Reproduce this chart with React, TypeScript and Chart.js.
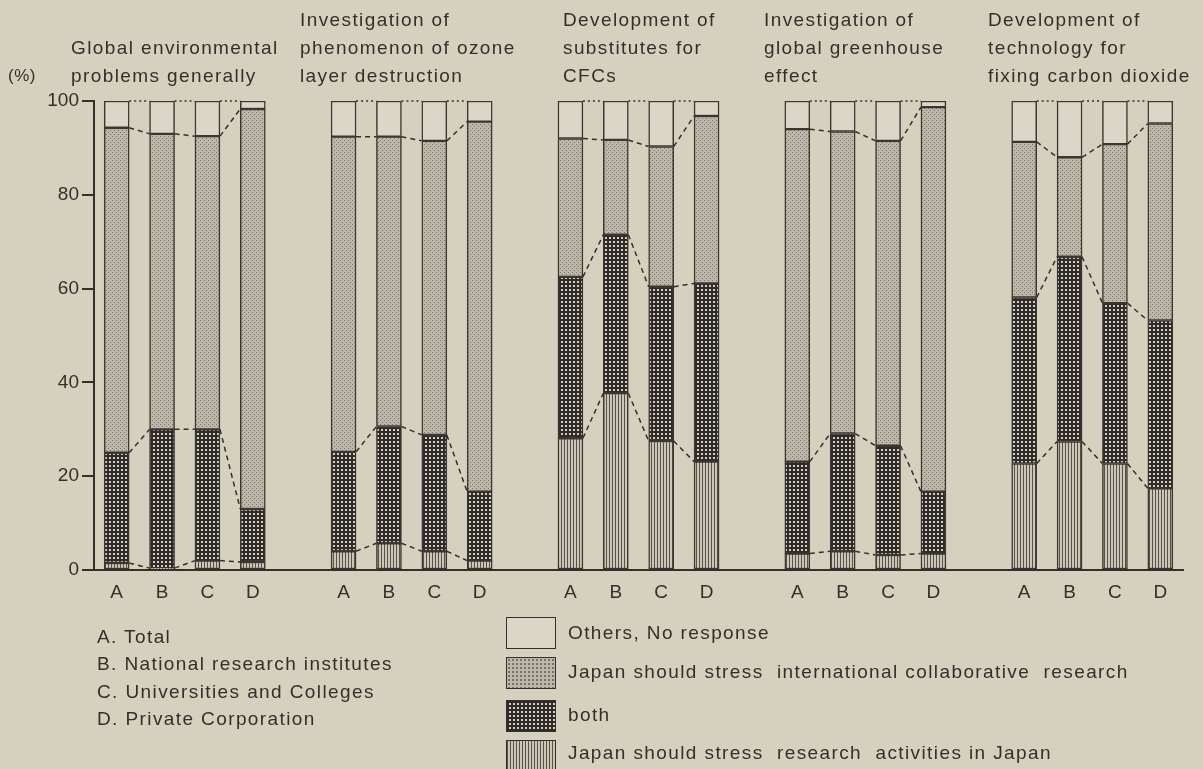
import React, { useEffect, useRef } from 'react';
import { Chart, registerables } from 'chart.js';

Chart.register(...registerables);

// ---------- data ----------
const categories = ['A', 'B', 'C', 'D'];
const groupTitles = [
  ['Global environmental', 'problems generally'],
  ['Investigation of', 'phenomenon of ozone', 'layer destruction'],
  ['Development of', 'substitutes for', 'CFCs'],
  ['Investigation of', 'global greenhouse', 'effect'],
  ['Development of', 'technology for', 'fixing carbon dioxide'],
];
// values per bar (A,B,C,D for each of the 5 groups), in %
const japanResearch = [1.5, 0.4, 2, 1.7, 4, 5.7, 4, 2, 28.1, 37.7, 27.5, 23.1, 3.5, 4, 3.2, 3.5, 22.7, 27.4, 22.7, 17.4];
const bothVals = [23.5, 29.6, 28, 11.3, 21.2, 24.9, 24.8, 14.7, 34.4, 33.8, 32.9, 38, 19.6, 25.1, 23.3, 13.2, 35.4, 39.4, 34.2, 35.8];
const internationalVals = [69.3, 63, 62.5, 85.3, 67.2, 61.8, 62.7, 78.9, 29.5, 20.2, 29.9, 35.7, 70.9, 64.4, 65, 82, 33.2, 21.2, 33.9, 42];
const othersVals = [5.7, 7, 7.5, 1.7, 7.6, 7.6, 8.5, 4.4, 8, 8.3, 9.7, 3.2, 6, 6.5, 8.5, 1.3, 8.7, 12, 9.2, 4.8];
const yTicks = [0, 20, 40, 60, 80, 100];
const groupKeys = ['A. Total', 'B. National research institutes', 'C. Universities and Colleges', 'D. Private Corporation'];
const seriesNames = [
  'Others, No response',
  'Japan should stress  international collaborative  research',
  'both',
  'Japan should stress  research  activities in Japan',
];

// ---------- style ----------
const BG = '#d6d0be';
const INK = '#33302c';
const FONT = '"Liberation Sans", Arial, Helvetica, sans-serif';

function makePattern(kind: string): CanvasPattern | string {
  const c = document.createElement('canvas');
  const ctx = c.getContext('2d')!;
  if (kind === 'stipple') {
    c.width = 4; c.height = 4;
    ctx.fillStyle = '#bcb7a8'; ctx.fillRect(0, 0, 4, 4);
    ctx.fillStyle = '#77736a';
    ctx.fillRect(0, 0, 1, 1); ctx.fillRect(2, 2, 1, 1);
  } else if (kind === 'grid') {
    c.width = 4; c.height = 4;
    ctx.fillStyle = '#2e2b28'; ctx.fillRect(0, 0, 4, 4);
    ctx.fillStyle = '#d2cec0'; ctx.fillRect(1, 1, 2, 2);
  } else if (kind === 'stripe') {
    c.width = 3; c.height = 4;
    ctx.fillStyle = '#cbc6b5'; ctx.fillRect(0, 0, 3, 4);
    ctx.fillStyle = '#56524b'; ctx.fillRect(0, 0, 1, 4);
  }
  return ctx.createPattern(c, 'repeat')!;
}

const swatchCss: Record<string, React.CSSProperties> = {
  plain: { background: '#dbd7c8' },
  stipple: { background: 'radial-gradient(circle, #77736a 0.9px, transparent 1.1px) 0 0/4px 4px, #bcb7a8' },
  grid: {
    background:
      'linear-gradient(90deg, #2e2b28 2px, transparent 2px) 0 0/4px 4px, linear-gradient(#2e2b28 2px, transparent 2px) 0 0/4px 4px, #d2cec0',
  },
  stripe: { background: 'repeating-linear-gradient(90deg, #56524b 0 1px, #cbc6b5 1px 3px)' },
};

export default function App() {
  const canvasRef = useRef<HTMLCanvasElement | null>(null);

  useEffect(() => {
    const labels: string[] = [];
    const expand = (vals: number[]) => {
      const out: (number | null)[] = [];
      for (let g = 0; g < groupTitles.length; g++) {
        for (let k = 0; k < categories.length; k++) out.push(vals[g * categories.length + k]);
        if (g < groupTitles.length - 1) out.push(null);
      }
      return out;
    };
    for (let g = 0; g < groupTitles.length; g++) {
      categories.forEach((c) => labels.push(c));
      if (g < groupTitles.length - 1) labels.push('');
    }

    const common = { borderColor: '#3a3631', borderWidth: 1.5, borderSkipped: false as const, barThickness: 25 };
    const datasets = [
      { label: seriesNames[3], data: expand(japanResearch), backgroundColor: makePattern('stripe'), ...common },
      { label: seriesNames[2], data: expand(bothVals), backgroundColor: makePattern('grid'), ...common },
      { label: seriesNames[1], data: expand(internationalVals), backgroundColor: makePattern('stipple'), ...common },
      { label: seriesNames[0], data: expand(othersVals), backgroundColor: '#dbd7c8', ...common },
    ];

    const connectors = {
      id: 'connectors',
      afterDatasetsDraw(chart: any) {
        const ctx = chart.ctx;
        ctx.save();
        ctx.strokeStyle = INK;
        ctx.lineWidth = 1.5;
        const per = categories.length + 1;
        for (let d = 0; d < chart.data.datasets.length; d++) {
          const meta = chart.getDatasetMeta(d);
          ctx.setLineDash(d === chart.data.datasets.length - 1 ? [2, 3] : [5, 4]);
          for (let g = 0; g < groupTitles.length; g++) {
            for (let k = 0; k < categories.length - 1; k++) {
              const a = meta.data[g * per + k];
              const b = meta.data[g * per + k + 1];
              if (!a || !b) continue;
              ctx.beginPath();
              ctx.moveTo(a.x + a.width / 2, a.y);
              ctx.lineTo(b.x - b.width / 2, b.y);
              ctx.stroke();
            }
          }
        }
        ctx.restore();
      },
    };

    const chart = new Chart(canvasRef.current!, {
      type: 'bar',
      data: { labels, datasets },
      options: {
        responsive: false,
        devicePixelRatio: 1,
        animation: false,
        layout: { padding: { top: 101, right: 20, bottom: 169, left: 0 } },
        plugins: { legend: { display: false }, tooltip: { enabled: false } },
        scales: {
          x: {
            stacked: true,
            offset: true,
            grid: { display: false },
            border: { display: true, color: INK, width: 2 },
            ticks: { color: INK, font: { family: FONT, size: 19 }, padding: 3, autoSkip: false, maxRotation: 0 },
            afterFit: (s: any) => { s.height = 30; },
          },
          y: {
            stacked: true,
            min: 0,
            max: 100,
            afterBuildTicks: (s: any) => { s.ticks = yTicks.map((v) => ({ value: v })); },
            ticks: { color: INK, font: { family: FONT, size: 19 }, padding: 3 },
            grid: { drawOnChartArea: false, drawTicks: true, tickLength: 12, color: INK, lineWidth: 2 },
            border: { display: true, color: INK, width: 2 },
            afterFit: (s: any) => { s.width = 94; },
          },
        },
      },
      plugins: [connectors],
    } as any);
    return () => chart.destroy();
  }, []);

  const textBase: React.CSSProperties = {
    position: 'absolute',
    fontFamily: FONT,
    fontSize: 19,
    letterSpacing: '1.4px',
    color: INK,
    whiteSpace: 'pre',
    lineHeight: '28px',
  };
  const titleLefts = [71, 300, 563, 764, 988];
  const swatchKinds = ['plain', 'stipple', 'grid', 'stripe'];
  const swatchTops = [617, 657, 700, 740];
  const textCenters = [633, 672, 715, 753];

  return (
    <div style={{ position: 'absolute', left: 0, top: 0, width: 1203, height: 769, background: BG, overflow: 'hidden' }}>
      <canvas ref={canvasRef} width={1203} height={769} style={{ position: 'absolute', left: 0, top: 0 }} />
      <div style={{ ...textBase, left: 8, top: 62, fontSize: 17, letterSpacing: '0.5px' }}>(%)</div>
      {groupTitles.map((lines, i) => (
        <div key={i} style={{ ...textBase, left: titleLefts[i], top: lines.length === 2 ? 34 : 6 }}>
          {lines.join('\n')}
        </div>
      ))}
      <div style={{ ...textBase, left: 97, top: 623, lineHeight: '27.4px' }}>{groupKeys.join('\n')}</div>
      {seriesNames.map((name, i) => (
        <React.Fragment key={i}>
          <div
            style={{
              position: 'absolute',
              left: 506,
              top: swatchTops[i],
              width: 50,
              height: 32,
              boxSizing: 'border-box',
              border: `1.5px solid ${INK}`,
              ...swatchCss[swatchKinds[i]],
            }}
          />
          <div style={{ ...textBase, left: 568, top: textCenters[i] - 14 }}>{name}</div>
        </React.Fragment>
      ))}
    </div>
  );
}
